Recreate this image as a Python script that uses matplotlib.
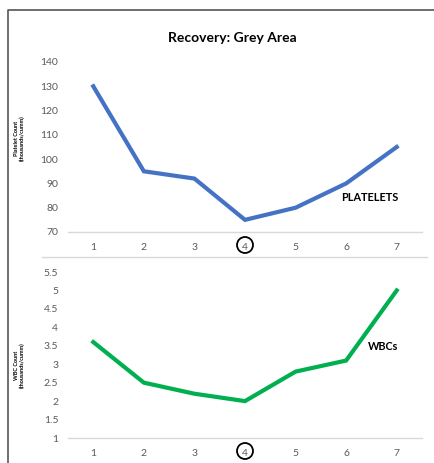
import matplotlib.pyplot as plt
from matplotlib.lines import Line2D
from matplotlib.patches import Ellipse

plt.rcParams['font.family'] = ['Lato', 'DejaVu Sans']

days = [1, 2, 3, 4, 5, 6, 7]
platelets = [130, 95, 92, 75, 80, 90, 105]
wbcs = [3.6, 2.5, 2.2, 2.0, 2.8, 3.1, 5.0]
platelet_ticks = [70, 80, 90, 100, 110, 120, 130, 140]
wbc_ticks = [1, 1.5, 2, 2.5, 3, 3.5, 4, 4.5, 5, 5.5]
wbc_tick_labels = ['1', '1.5', '2', '2.5', '3', '3.5', '4', '4.5', '5', '5.5']
marked_day = 4

BLUE = '#4472C4'
GREEN = '#00B050'
TICK_GREY = '#595959'
GRID_GREY = '#d9d9d9'

W, H = 435, 463
fig = plt.figure(figsize=(W / 100, H / 100), dpi=100)

def px_box(x0, y0, x1, y1):
    return [x0 / W, 1 - y1 / H, (x1 - x0) / W, (y1 - y0) / H]

ax1 = fig.add_axes(px_box(68, 62, 422, 232))
ax2 = fig.add_axes(px_box(68, 272, 422, 438))

def style_axis(ax, ticks, labels=None):
    for s in ax.spines.values():
        s.set_visible(False)
    ax.set_xlim(0.5, 7.5)
    ax.set_ylim(ticks[0], ticks[-1])
    ax.set_yticks(ticks)
    if labels is not None:
        ax.set_yticklabels(labels)
    ax.set_xticks(days)
    ax.tick_params(length=0, labelsize=7.5, labelcolor=TICK_GREY)
    ax.tick_params(axis='x', pad=8)
    ax.tick_params(axis='y', pad=7)
    ax.axhline(ticks[0], color=GRID_GREY, lw=1, clip_on=False)
    ax.set_facecolor('none')

style_axis(ax1, platelet_ticks)
style_axis(ax2, wbc_ticks, wbc_tick_labels)

ax1.plot(days, platelets, color=BLUE, lw=3, solid_joinstyle='miter', clip_on=False)
ax2.plot(days, wbcs, color=GREEN, lw=3, solid_joinstyle='miter', clip_on=False)

ax1.text(6.46, 84.4, 'PLATELETS', fontsize=7.8, fontweight='bold', ha='center', va='center')
ax2.text(6.73, 3.47, 'WBCs', fontsize=7.8, fontweight='bold', ha='center', va='center')

ax1.set_ylabel('Platelet Count\n(thousands/cumm)', fontsize=4, fontweight='bold',
               linespacing=1.1)
ax2.set_ylabel('WBC Count\n(thousands/cumm)', fontsize=4, fontweight='bold',
               linespacing=1.1)
ax1.yaxis.set_label_coords((25 - 68) / 354, 0.55)
ax2.yaxis.set_label_coords((25 - 68) / 354, 0.44)

# circle the highlighted day under each x axis
for ycenter in (245, 451):
    fig.add_artist(Ellipse(((245) / W, 1 - ycenter / H), 16 / W, 16 / H,
                           transform=fig.transFigure, fill=False, lw=1.3, color='black'))

fig.text(232 / W, 1 - 38 / H, 'Recovery: Grey Area', fontsize=10, fontweight='bold',
         ha='center', va='center')

# panel separator and outer frame
fig.add_artist(Line2D([42 / W, 427 / W], [1 - 257 / H] * 2, color=GRID_GREY, lw=1,
                      transform=fig.transFigure))
fig.add_artist(Line2D([8 / W, 8 / W, 1], [0, 1 - 10 / H, 1 - 10 / H], color='#555555',
                      lw=1.2, transform=fig.transFigure))

fig.savefig('out.png', dpi=100)
